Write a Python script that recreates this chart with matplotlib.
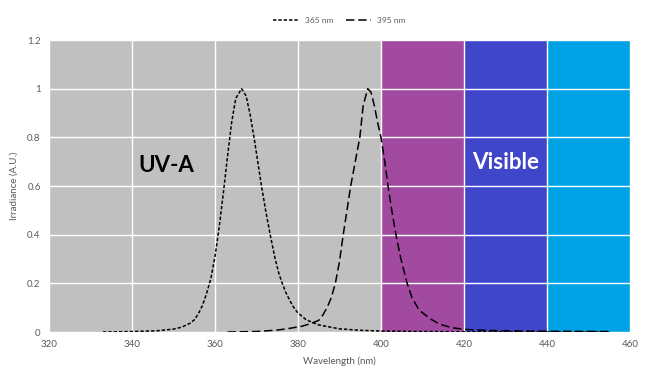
import matplotlib.pyplot as plt
from matplotlib.ticker import FuncFormatter

# spectral data
wl_365 = [333, 340, 346, 350, 352, 354, 355, 356, 357, 358, 359, 360, 361, 362, 363, 364, 365,
          366.4, 367.5, 368.5, 369.4, 370.3, 371.2, 372.2, 373.3, 374.5, 375.4, 376.2, 377, 378,
          379, 380, 382, 385, 390, 395, 400, 410, 420, 440, 455]
irr_365 = [0.0, 0.002, 0.005, 0.012, 0.02, 0.036, 0.05, 0.075, 0.11, 0.16, 0.22, 0.31, 0.43,
           0.57, 0.72, 0.86, 0.96, 1.0, 0.97, 0.89, 0.8, 0.7, 0.6, 0.5, 0.4, 0.3, 0.24, 0.2,
           0.165, 0.13, 0.1, 0.078, 0.05, 0.029, 0.013, 0.007, 0.004, 0.002, 0.001, 0.0, 0.0]

wl_395 = [363, 370, 375, 378, 381, 383, 385, 386, 387, 388, 389, 390, 390.9, 391.8, 392.7, 393.8,
          394.9, 395.7, 396.8, 397.6, 398.4, 399.2, 400, 400.9, 401.7, 402.6, 403.6, 404.8, 406.3,
          407.5, 409.2, 411.8, 414, 417, 420, 425, 430, 440, 455]
irr_395 = [0.0, 0.002, 0.008, 0.015, 0.024, 0.034, 0.048, 0.07, 0.1, 0.14, 0.2, 0.29, 0.4, 0.5,
           0.6, 0.7, 0.8, 0.93, 1.0, 0.985, 0.93, 0.86, 0.8, 0.7, 0.6, 0.5, 0.4, 0.3, 0.2, 0.14,
           0.09, 0.055, 0.033, 0.018, 0.011, 0.007, 0.005, 0.003, 0.002]

# background bands
band_starts = [320, 400, 420, 440]
band_ends = [400, 420, 440, 460]
band_colors = ['#c0c0c0', '#a24aa0', '#4046ca', '#00a2e6']

plt.rcParams['font.family'] = ['Lato', 'DejaVu Sans']

fig = plt.figure(figsize=(6.51, 3.81), dpi=100)
ax = fig.add_axes([0.0753, 0.1286, 0.8924, 0.7664])

for s, e, c in zip(band_starts, band_ends, band_colors):
    ax.axvspan(s, e, color=c, lw=0, zorder=0)

ax.set_xlim(320, 460)
ax.set_ylim(0, 1.2)
ax.set_xticks(range(320, 461, 20))
ax.set_yticks([0, 0.2, 0.4, 0.6, 0.8, 1.0, 1.2])
ax.yaxis.set_major_formatter(FuncFormatter(lambda v, p: '%g' % v))
ax.grid(True, color='white', lw=1.0, zorder=1)
ax.set_axisbelow(False)

ax.plot(wl_365, irr_365, color='black', lw=1.1, linestyle=(0, (2.2, 1.3)), label='365 nm', zorder=3)
ax.plot(wl_395, irr_395, color='black', lw=1.1, linestyle=(0, (5.5, 2.5)), label='395 nm', zorder=3)

for sp in ax.spines.values():
    sp.set_visible(False)
ax.tick_params(length=0, labelsize=7, labelcolor='#595959', pad=6)

ax.set_xlabel('Wavelength (nm)', fontsize=7, color='#595959', labelpad=5)
ax.set_ylabel('Irradiance (A.U.)', fontsize=7, color='#595959', labelpad=6)

ax.text(348.2, 0.685, 'UV-A', fontsize=16, fontweight='bold', color='black', ha='center', va='center', zorder=4)
ax.text(430.1, 0.695, 'Visible', fontsize=16, fontweight='bold', color='white', ha='center', va='center', zorder=4)

ax.legend(loc='lower center', bbox_to_anchor=(0.5, 1.03), ncol=2, frameon=False,
          fontsize=6, handlelength=3, columnspacing=1.5, labelcolor='#595959')

fig.savefig('out.png', dpi=100)
